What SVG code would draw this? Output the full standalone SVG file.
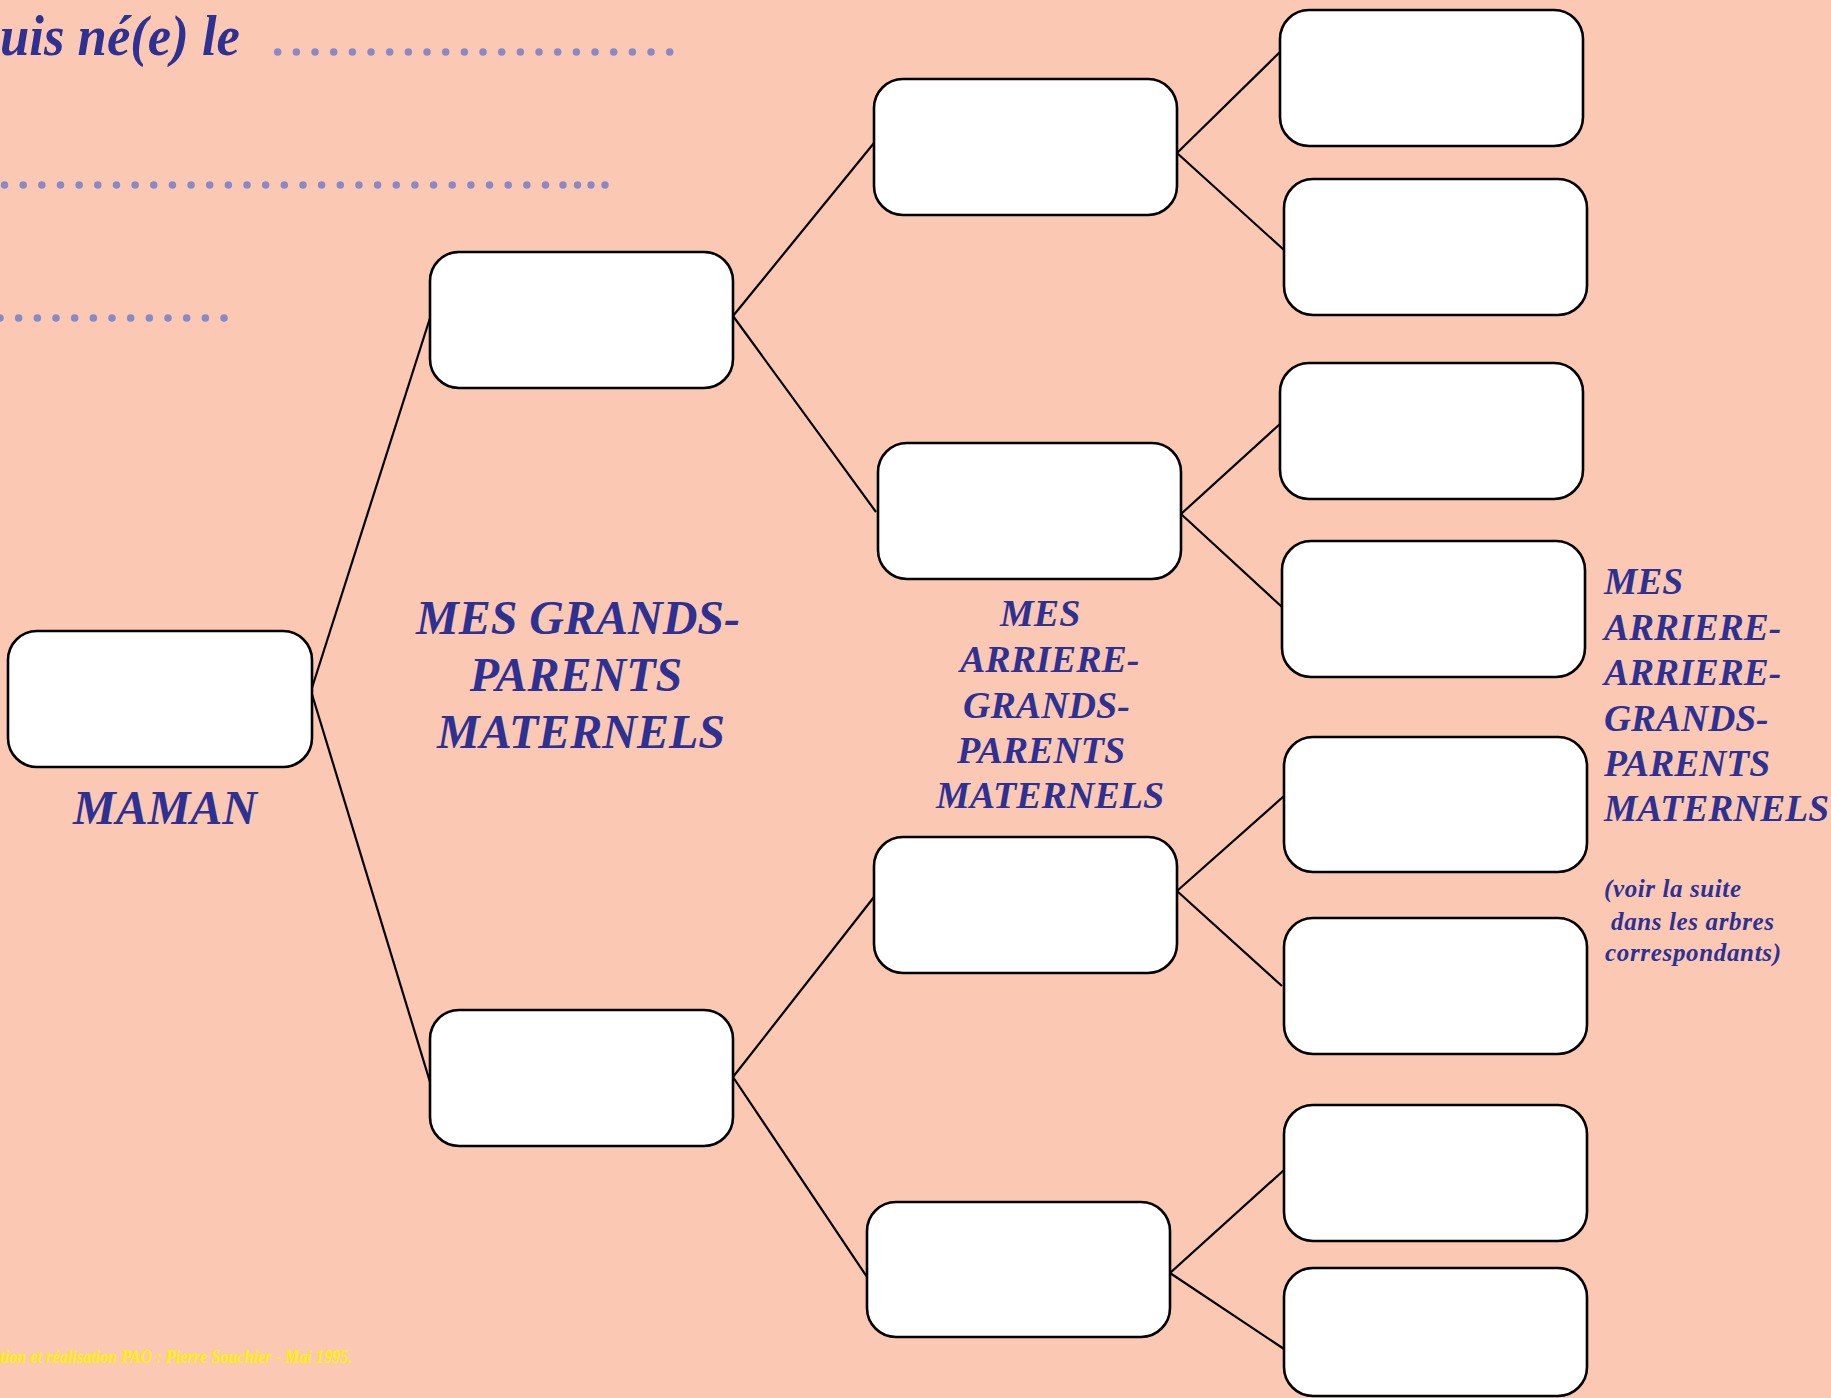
<svg xmlns="http://www.w3.org/2000/svg" width="1831" height="1398" viewBox="0 0 1831 1398">
<style>
.bg{fill:#fbc8b4}
.box{fill:#ffffff;stroke:#000000;stroke-width:2.6}
.con{stroke:#000000;stroke-width:2.2;fill:none}
.t{font-family:"Liberation Serif","Times New Roman",serif;font-weight:bold;font-style:italic;fill:#2e3192}
.dots{stroke:#8b88c8;stroke-width:7.5;stroke-linecap:round;fill:none}
.dot{fill:#8b88c8}
.foot{font-family:"Liberation Serif","Times New Roman",serif;font-weight:bold;font-style:italic;fill:#fff200;font-size:18px}
</style>
<rect class="bg" x="0" y="0" width="1831" height="1398"/>

<g id="header">
<text class="t" x="0" y="55" font-size="58" textLength="240" lengthAdjust="spacingAndGlyphs">uis né(e) le</text>
<line class="dots" x1="277.7" y1="52" x2="670.5" y2="52" stroke-dasharray="0 18.667"/>
<line class="dots" x1="4.5" y1="185" x2="546.3" y2="185" stroke-dasharray="0 18.655"/>
<circle class="dot" cx="563" cy="185" r="3.7"/>
<circle class="dot" cx="577.5" cy="185" r="3.7"/>
<circle class="dot" cx="591" cy="185" r="3.7"/>
<circle class="dot" cx="605" cy="185" r="3.7"/>
<line class="dots" x1="0" y1="318" x2="224.8" y2="318" stroke-dasharray="0 18.667"/>
</g>

<g id="connectors">
<line class="con" x1="311" y1="691" x2="430" y2="318"/>
<line class="con" x1="311" y1="691" x2="430" y2="1082"/>
<line class="con" x1="733" y1="316" x2="874" y2="143"/>
<line class="con" x1="733" y1="316" x2="876" y2="512"/>
<line class="con" x1="733" y1="1077" x2="874" y2="897"/>
<line class="con" x1="733" y1="1077" x2="867" y2="1277"/>
<line class="con" x1="1177" y1="153" x2="1280" y2="52"/>
<line class="con" x1="1177" y1="153" x2="1284" y2="250"/>
<line class="con" x1="1181" y1="514" x2="1280" y2="424"/>
<line class="con" x1="1181" y1="514" x2="1282" y2="607"/>
<line class="con" x1="1177" y1="891" x2="1284" y2="796"/>
<line class="con" x1="1177" y1="891" x2="1282" y2="986"/>
<line class="con" x1="1170" y1="1273" x2="1284" y2="1170"/>
<line class="con" x1="1170" y1="1273" x2="1284" y2="1349"/>
</g>

<g id="maman"><rect class="box" x="8" y="631" width="304" height="136" rx="29" ry="29"/></g>
<g id="gp1"><rect class="box" x="430" y="252" width="303" height="136" rx="29" ry="29"/></g>
<g id="gp2"><rect class="box" x="430" y="1010" width="303" height="136" rx="29" ry="29"/></g>
<g id="agp1"><rect class="box" x="874" y="79" width="303" height="136" rx="29" ry="29"/></g>
<g id="agp2"><rect class="box" x="878" y="443" width="303" height="136" rx="29" ry="29"/></g>
<g id="agp3"><rect class="box" x="874" y="837" width="303" height="136" rx="29" ry="29"/></g>
<g id="agp4"><rect class="box" x="867" y="1202" width="303" height="135" rx="29" ry="29"/></g>
<g id="aagp1"><rect class="box" x="1280" y="10" width="303" height="136" rx="29" ry="29"/></g>
<g id="aagp2"><rect class="box" x="1284" y="179" width="303" height="136" rx="29" ry="29"/></g>
<g id="aagp3"><rect class="box" x="1280" y="363" width="303" height="136" rx="29" ry="29"/></g>
<g id="aagp4"><rect class="box" x="1282" y="541" width="303" height="136" rx="29" ry="29"/></g>
<g id="aagp5"><rect class="box" x="1284" y="737" width="303" height="135" rx="29" ry="29"/></g>
<g id="aagp6"><rect class="box" x="1284" y="918" width="303" height="136" rx="29" ry="29"/></g>
<g id="aagp7"><rect class="box" x="1284" y="1105" width="303" height="136" rx="29" ry="29"/></g>
<g id="aagp8"><rect class="box" x="1284" y="1268" width="303" height="128" rx="29" ry="29"/></g>

<g id="labels">
<text class="t" x="165" y="824" font-size="48" text-anchor="middle">MAMAN</text>
<text class="t" font-size="48" text-anchor="middle">
<tspan x="584" y="634">MES GRANDS-</tspan>
<tspan x="582" y="691">PARENTS</tspan>
<tspan x="581" y="748">MATERNELS</tspan>
</text>
<text class="t" font-size="38">
<tspan x="1000" y="626">MES</tspan>
<tspan x="960" y="672">ARRIERE-</tspan>
<tspan x="963" y="718">GRANDS-</tspan>
<tspan x="957" y="763">PARENTS</tspan>
<tspan x="936" y="808">MATERNELS</tspan>
</text>
<text class="t" font-size="37.5">
<tspan x="1604" y="594">MES</tspan>
<tspan x="1604" y="640">ARRIERE-</tspan>
<tspan x="1604" y="685">ARRIERE-</tspan>
<tspan x="1604" y="731">GRANDS-</tspan>
<tspan x="1604" y="776">PARENTS</tspan>
<tspan x="1604" y="821">MATERNELS</tspan>
</text>
<text class="t" font-size="25" x="1604" y="897" textLength="137">(voir la suite</text>
<text class="t" font-size="25" x="1611" y="930" textLength="163">dans les arbres</text>
<text class="t" font-size="25" x="1605" y="961" textLength="176">correspondants)</text>
</g>

<text class="foot" x="0" y="1363" textLength="352" lengthAdjust="spacingAndGlyphs">tion et réalisation PAO : Pierre Souchier - Mai 1995.</text>
</svg>
